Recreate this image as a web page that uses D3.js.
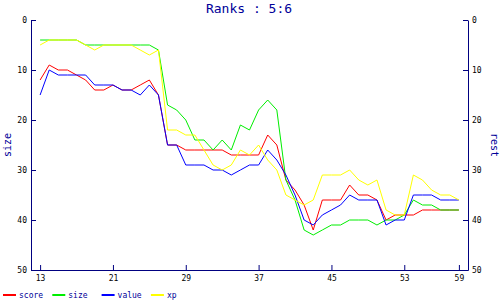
<!DOCTYPE html>
<html>
<head>
<meta charset="utf-8">
<script src="https://cdn.jsdelivr.net/npm/d3@7"></script>
<style>
  body { margin: 0; background: #fff; }
  svg { display: block; }
  text { font-family: "DejaVu Sans Mono", monospace; }
</style>
</head>
<body>
<div id="chart"></div>
<script>
// rangs par tour (13 a 59)
var tours = d3.range(13, 60);
var score = [12, 9, 10, 10, 11, 12, 14, 14, 13, 14, 14, 13, 12, 15, 25, 25, 26, 26, 26, 26, 26, 27, 27, 27, 27, 23, 25, 32, 34, 37, 42, 36, 36, 36, 33, 35, 35, 36, 40, 39, 39, 39, 38, 38, 38, 38, 38];
var size  = [4, 4, 4, 4, 4, 5, 5, 5, 5, 5, 5, 5, 5, 6, 17, 18, 20, 24, 24, 26, 24, 26, 21, 22, 18, 16, 18, 32, 36, 42, 43, 42, 41, 41, 40, 40, 40, 41, 40, 40, 39, 36, 37, 37, 38, 38, 38];
var value = [15, 10, 11, 11, 11, 11, 13, 13, 13, 14, 14, 15, 13, 15, 25, 25, 29, 29, 29, 30, 30, 31, 30, 29, 29, 26, 28, 31, 35, 40, 41, 39, 38, 37, 35, 36, 36, 36, 41, 40, 40, 35, 35, 35, 36, 36, 36];
var xp    = [5, 4, 4, 4, 4, 5, 6, 5, 5, 5, 5, 6, 7, 6, 22, 22, 23, 23, 26, 29, 30, 29, 26, 27, 25, 28, 30, 35, 36, 37, 36, 31, 31, 31, 30, 32, 33, 32, 38, 39, 39, 31, 32, 34, 35, 35, 36];

var noms = ["score", "size", "value", "xp"];
var couleurs = ["#ff0000", "#00ee00", "#0000ff", "#ffff00"];
var xTicks = [13, 21, 29, 37, 45, 53, 59];
var yTicks = [0, 10, 20, 30, 40, 50];

var series = [score, size, value, xp];
var bleu = "#000080";

var width = 500, height = 300;
var svg = d3.select("#chart").append("svg")
  .attr("width", width)
  .attr("height", height);

var x = d3.scaleLinear().domain([12, 60]).range([31, 468]);
var y = d3.scaleLinear().domain([0, 50]).range([20, 270]);

// titre
svg.append("text")
  .attr("x", 249)
  .attr("y", 13)
  .attr("text-anchor", "middle")
  .attr("font-size", 13)
  .attr("fill", "#000099")
  .text("Ranks : 5:6");

// axes
function styleAxe(g){
  g.selectAll("path, line").attr("stroke", bleu);
  g.selectAll("text").attr("font-size", 8).attr("fill", "#000")
    .attr("font-family", "'DejaVu Sans Mono', monospace");
}

svg.append("g")
  .attr("transform", "translate(31,0)")
  .call(d3.axisLeft(y).tickValues(yTicks).tickSizeInner(-5).tickSizeOuter(0).tickPadding(4))
  .call(styleAxe);

svg.append("g")
  .attr("transform", "translate(468,0)")
  .call(d3.axisRight(y).tickValues(yTicks).tickSizeInner(-5).tickSizeOuter(0).tickPadding(4))
  .call(styleAxe);

svg.append("g")
  .attr("transform", "translate(0,270)")
  .call(d3.axisBottom(x).tickValues(xTicks).tickSizeInner(-5).tickSizeOuter(0).tickPadding(5))
  .call(styleAxe);

// titres des axes
svg.append("text")
  .attr("transform", "translate(11,145) rotate(-90)")
  .attr("text-anchor", "middle")
  .attr("font-size", 10)
  .attr("fill", "#000099")
  .text("size");

svg.append("text")
  .attr("transform", "translate(491,145) rotate(90)")
  .attr("text-anchor", "middle")
  .attr("font-size", 10)
  .attr("fill", "#000099")
  .text("rest");

// courbes
var line = d3.line()
  .x((d, i) => x(tours[i]))
  .y(d => y(d));

svg.append("g")
  .selectAll("path")
  .data(series)
  .join("path")
    .attr("d", line)
    .attr("fill", "none")
    .attr("stroke", (d, i) => couleurs[i])
    .attr("stroke-width", 1);

// legende
var leg = svg.append("g")
  .selectAll("g")
  .data(noms)
  .join("g")
    .attr("transform", (d, i) => `translate(${3 + i * 49.3},295)`);

leg.append("line")
  .attr("x1", 0).attr("x2", 13)
  .attr("stroke", (d, i) => couleurs[i])
  .attr("stroke-width", 2);

leg.append("text")
  .attr("x", 16)
  .attr("dy", "0.32em")
  .attr("font-size", 8)
  .attr("fill", "#000099")
  .text(d => d);
</script>
</body>
</html>
